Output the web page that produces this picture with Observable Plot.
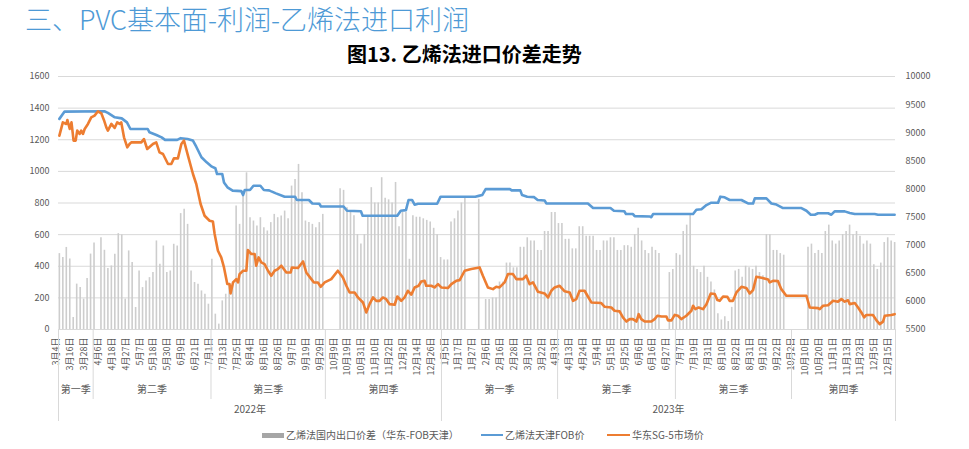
<!DOCTYPE html>
<html><head><meta charset="utf-8">
<script src="https://cdn.jsdelivr.net/npm/d3@7"></script>
<script src="https://cdn.jsdelivr.net/npm/@observablehq/plot@0.6"></script>
<style>
body{margin:0;background:#fff;}
#wrap{position:relative;width:969px;height:449px;overflow:hidden;font-family:'Noto Sans CJK SC',sans-serif;}
#wrap svg{position:absolute;left:0;top:0;}
.t1{position:absolute;left:25px;top:4px;font-size:27px;line-height:30px;color:#4e9ad6;white-space:nowrap;font-weight:300;}
.t2{position:absolute;left:347px;top:41.5px;font-size:20px;line-height:24px;font-weight:bold;color:#000;white-space:nowrap;}
.lg{position:absolute;}
.lt{position:absolute;top:427px;font-size:10px;line-height:16px;color:#595959;white-space:nowrap;}
</style></head><body>
<div id="wrap">
<div class="t1">三、PVC基本面-利润-乙烯法进口利润</div>
<div class="t2">图13. 乙烯法进口价差走势</div>
<div class="lg" style="left:262px;top:432.5px;width:21.5px;height:5px;background:#a6a6a6"></div>
<div class="lt" style="left:286px">乙烯法国内出口价差（华东-FOB天津）</div>
<div class="lg" style="left:481px;top:433.8px;width:22px;height:2.6px;background:#5b9bd5"></div>
<div class="lt" style="left:505px">乙烯法天津FOB价</div>
<div class="lg" style="left:607px;top:433.8px;width:23px;height:2.6px;background:#ed7d31"></div>
<div class="lt" style="left:632px">华东SG-5市场价</div>
</div>
<script>
const tickLabels = ["3月4日","3月16日","3月28日","4月6日","4月18日","4月27日","5月7日","5月18日","5月30日","6月9日","6月21日","7月1日","7月13日","7月25日","8月4日","8月16日","8月26日","9月7日","9月19日","9月29日","10月9日","10月19日","10月31日","11月10日","11月22日","12月2日","12月14日","12月26日",
"1月5日","1月17日","1月27日","2月6日","2月16日","2月28日","3月10日","3月22日","4月3日","4月13日","4月24日","5月4日","5月15日","5月25日","6月6日","6月16日","6月27日","7月7日","7月19日","7月31日","8月10日","8月22日","8月31日","9月12日","9月22日","10月2日","10月10日","10月20日","11月1日","11月13日","11月23日","12月5日","12月15日"];
const leftTicks = [0,200,400,600,800,1000,1200,1400,1600];
const rightTicks = [5500,6000,6500,7000,7500,8000,8500,9000,9500,10000];
const quarterNames = ["第一季","第二季","第三季","第四季","第一季","第二季","第三季","第四季"];
const quarterStarts = [0,20,88,154,221,288,356,423];
const years = ["2022年","2023年"];
const yearStarts = [0,221];
const lastDay = 482;

// 乙烯法国内出口价差 (every 2nd trading day)
const spreadValues = [
480,455,519,446,76,287,266,192,323,477,547,0,
581,501,385,402,476,606,598,192,497,423,139,370,
265,307,328,360,560,413,528,360,370,539,528,733,
760,665,370,297,286,244,223,160,444,97,34,181,
223,286,290,781,665,855,991,707,686,655,707,644,
623,676,728,707,718,749,700,907,949,1044,865,686,
676,665,644,676,728,0,0,0,0,890,880,770,
750,720,600,540,600,710,897,800,800,960,830,820,
800,930,650,740,740,444,720,710,710,700,690,680,
640,600,455,440,440,680,700,750,800,840,0,0,
0,823,0,190,190,200,200,300,300,420,420,390,
390,520,520,580,560,560,500,500,620,620,740,740,
670,670,570,570,510,510,650,650,590,590,590,500,
500,560,560,580,580,500,500,530,530,520,600,640,
560,500,480,520,500,480,0,0,360,380,480,470,
620,660,728,400,380,360,400,330,300,250,100,60,
80,50,140,370,380,330,400,390,380,400,360,340,
600,600,500,500,480,470,0,0,0,0,0,0,
520,540,480,500,480,620,660,560,540,560,600,620,
660,600,620,590,540,560,540,410,380,420,550,580,
560,550];

// 乙烯法天津FOB价 [trading day, value]
const fobSeries = [[0,1332],[3,1378],[26,1380],[28,1370],[32,1342],[36,1335],[39,1310],[41,1268],[51,1268],[52,1247],[56,1230],[59,1215],[61,1199],[68,1199],[70,1210],[74,1205],[77,1196],[79,1156],[82,1089],[85,1057],[88,1030],[90,1020],[91,983],[94,983],[95,930],[97,899],[100,878],[105,875],[106,850],[107,882],[110,882],[112,909],[116,909],[118,882],[121,880],[122,875],[125,861],[130,840],[136,840],[137,819],[144,819],[146,797],[150,795],[151,778],[164,778],[166,751],[174,748],[175,719],[195,719],[197,751],[200,755],[201.5,819],[203.5,819],[205,789],[207,795],[218,795],[220,840],[240,840],[242,845],[244,850],[246,888],[260,888],[261,880],[266,880],[267,850],[270,840],[274,837],[276,819],[280,816],[281,797],[305,797],[308,768],[318,768],[320,751],[326,748],[327,730],[331,730],[332,717],[340.7,715],[341.6,710],[342.6,730],[365.7,730],[367.6,757],[370.5,760],[373.4,787],[376.2,802],[380.1,802],[381.4,840],[383.9,836],[386.8,819],[393.6,819],[397.4,797],[400.3,797],[401.3,829],[408,829],[410.9,797],[413.8,790],[417.6,768],[428.2,768],[431.1,751],[433.6,726],[435.9,726],[437.8,735],[443.6,735],[445.5,726],[447.4,747],[453.2,747],[456.1,737],[459,730],[470.5,730],[472.4,726],[482,726]];

// 华东SG-5市场价 [trading day, value]
const sg5Series = [[0,8948],[2,9185],[4,9156],[4.6,9227],[6,9067],[7,9185],[8.2,8859],[9.4,8859],[10.3,9037],[11.7,8978],[12.6,9037],[13.6,8978],[14.6,9067],[16.5,9156],[18.4,9274],[20.3,9304],[22.3,9381],[24.2,9345],[25.7,9227],[27.1,9095],[28,9037],[30,9156],[31.9,9085],[33.4,9185],[34.8,9156],[35.7,9185],[37.3,8918],[39.2,8740],[40.5,8799],[41.5,8829],[47.3,8829],[48.8,8888],[50.7,8711],[54,8799],[55.9,8829],[57.8,8651],[59.8,8622],[62.7,8444],[64.6,8444],[66.1,8544],[68.4,8544],[70.4,8799],[71.9,8859],[74.2,8592],[77.1,8266],[79,8088],[81.5,7732],[83.8,7524],[86.7,7435],[88.6,7420],[89.6,7198],[91.5,6901],[93.4,6782],[95,6604],[96.9,6308],[98.2,6308],[98.8,6141],[100.2,6337],[102.1,6396],[103.1,6337],[104,6486],[106,6545],[107.9,6545],[108.8,6913],[110.8,6842],[112.7,6842],[113.6,6634],[115,6782],[116.5,6693],[118.4,6663],[120.4,6545],[122.3,6456],[124.2,6545],[126.1,6575],[128.1,6634],[131,6515],[133.5,6515],[134.2,6604],[137.7,6593],[140.6,6711],[142.5,6515],[145.4,6396],[146.9,6337],[149.2,6337],[150.8,6260],[153.1,6337],[156.9,6396],[160.7,6545],[163.6,6426],[165.6,6278],[167.5,6159],[170.4,6159],[172.3,6070],[175.2,5981],[177.1,5803],[179,5951],[181,6070],[182.9,6010],[184.8,6010],[186.7,6070],[188.6,6040],[190.6,5951],[193.5,5940],[195,6087],[197.3,6010],[199.2,6070],[201.1,6189],[203.1,6120],[205,6248],[207.3,6278],[208.8,6354],[210.8,6366],[211.7,6278],[214.6,6278],[216.5,6248],[218.5,6307],[220.4,6248],[224.2,6237],[226.2,6307],[229,6366],[231,6378],[233.9,6545],[237.7,6575],[242.5,6604],[244.4,6456],[247.3,6248],[250.2,6218],[252.1,6260],[254,6248],[256.9,6337],[258.9,6486],[261.7,6486],[263.7,6396],[267.5,6396],[269.4,6456],[271.4,6307],[273.3,6337],[276.2,6171],[280,6141],[282,6070],[283.9,6189],[285.8,6248],[288.7,6278],[291.6,6180],[294.5,6159],[296.4,6010],[298.3,6040],[300.2,6189],[303.1,6189],[305,6087],[307,5981],[312.7,5970],[314.7,5904],[318.5,5892],[320.4,5833],[323.3,5822],[325.2,5714],[327.2,5642],[329.1,5685],[331,5685],[333,5642],[334.3,5773],[335.8,5685],[337.8,5642],[341.6,5642],[343.5,5685],[345.1,5744],[347.4,5730],[350.3,5730],[351.2,5663],[353.2,5663],[355.1,5759],[357,5744],[358.9,5685],[361.8,5744],[364.7,5833],[365.7,5922],[367,5862],[368.9,5892],[371.4,5862],[373.4,5951],[375.9,6141],[378.2,6130],[379.7,6023],[381.1,6010],[383,6087],[385.5,6080],[386.8,6010],[388.7,6010],[390.7,6159],[393.6,6260],[396.4,6240],[398.4,6141],[400.3,6200],[402.2,6438],[405.1,6420],[409,6390],[409.9,6337],[411.8,6366],[414.7,6360],[416.6,6218],[419.5,6100],[431.1,6100],[433,5892],[437.8,5880],[438.8,5862],[440.7,5922],[443.6,5930],[446.5,6010],[449.3,5995],[451.3,6040],[453.2,5995],[455.1,6020],[456.1,5951],[459,5970],[460.9,5892],[462.8,5803],[464.4,5714],[465.7,5759],[469.5,5759],[471.5,5663],[473.4,5596],[475.3,5640],[476.3,5744],[480.1,5759],[482,5773]];

const toLeft = r => (r - 5500) * 1600 / 4500;
const fromLeft = d => String(Math.round(5500 + d * 4500 / 1600));
const bars = spreadValues.map((v, i) => ({day: i * 2, v}));
const fob = fobSeries.map(([day, v]) => ({day, v}));
const sg5 = sg5Series.map(([day, v]) => ({day, v: toLeft(v)}));
const ticks = tickLabels.map((label, i) => ({day: i * 8, label}));
const qEnds = [...quarterStarts.slice(1), lastDay + 1];
const quarters = quarterNames.map((name, i) => ({name, mid: (quarterStarts[i] + qEnds[i] - 1) / 2}));
const qLines = quarterStarts.filter(s => !yearStarts.includes(s)).map(s => s - 0.5);
const yEnds = [...yearStarts.slice(1), lastDay + 1];
const yearLines = [...yearStarts.map(s => s - 0.5), lastDay + 0.5];
const yearData = years.map((name, i) => ({name, mid: (yearStarts[i] + yEnds[i] - 1) / 2}));

const font = "'Noto Sans CJK SC', sans-serif";
const chart = Plot.plot({
  width: 969, height: 449,
  marginTop: 76, marginBottom: 120, marginLeft: 58, marginRight: 74,
  x: {domain: [-0.5, lastDay + 0.5], axis: null, label: null},
  y: {domain: [0, 1600], axis: null, label: null},
  style: {fontFamily: font, color: "#595959", background: "transparent", overflow: "visible"},
  marks: [
    Plot.ruleY(leftTicks, {stroke: "#d9d9d9", strokeWidth: 1}),
    Plot.ruleX(bars, {x: "day", y1: 0, y2: "v", stroke: "#cdcdcd", strokeWidth: 1.6}),
    Plot.line(fob, {x: "day", y: "v", stroke: "#5b9bd5", strokeWidth: 2.6}),
    Plot.line(sg5, {x: "day", y: "v", stroke: "#ed7d31", strokeWidth: 2.6}),
    Plot.axisY(leftTicks, {anchor: "left", label: null, tickSize: 0, tickPadding: 9, fontSize: 9, tickFormat: d => String(d)}),
    Plot.axisY(rightTicks.map(toLeft), {anchor: "right", label: null, tickSize: 0, tickPadding: 10, fontSize: 9, tickFormat: fromLeft}),
    Plot.text(ticks, {x: "day", text: "label", frameAnchor: "bottom", rotate: -90, textAnchor: "end", dy: 8, fontSize: 9, fill: "#595959"}),
    Plot.ruleX(qLines, {stroke: "#d9d9d9", insetTop: 253, insetBottom: -70}),
    Plot.ruleX(yearLines, {stroke: "#d9d9d9", insetTop: 253, insetBottom: -92}),
    Plot.text(quarters, {x: "mid", text: "name", frameAnchor: "bottom", dy: 63, fontSize: 10, fill: "#595959"}),
    Plot.text(yearData, {x: "mid", text: "name", frameAnchor: "bottom", dy: 83, fontSize: 10, fill: "#595959"})
  ]
});
document.getElementById("wrap").prepend(chart);
</script>
</body></html>
